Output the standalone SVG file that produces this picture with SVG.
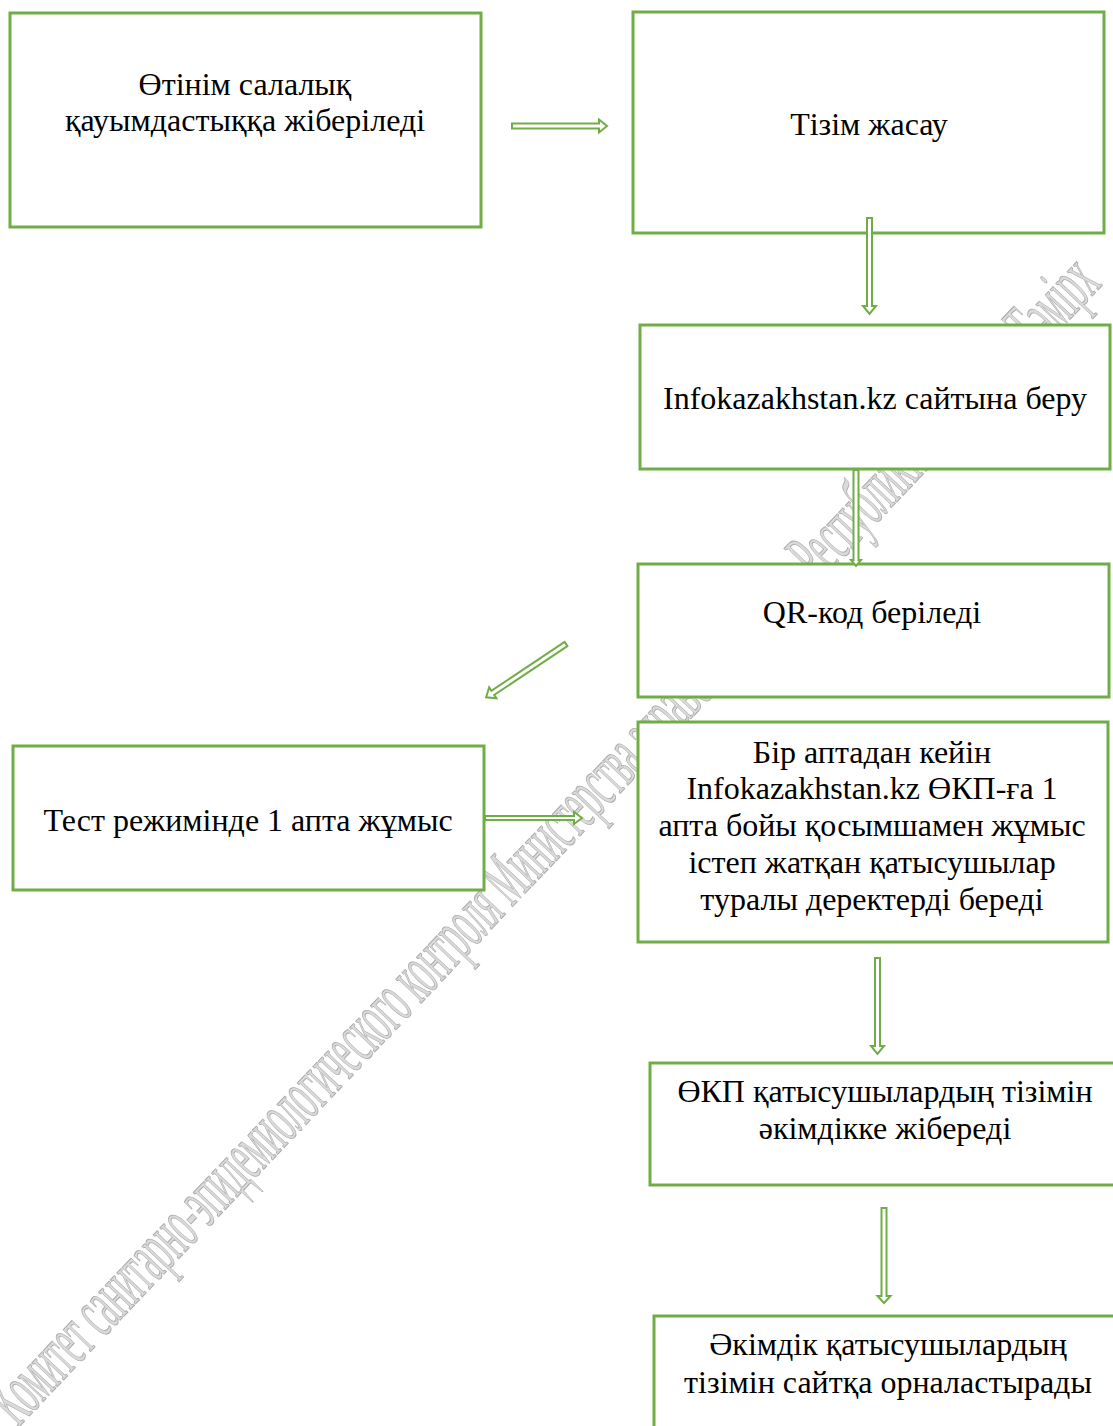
<svg xmlns="http://www.w3.org/2000/svg" width="1113" height="1426" viewBox="0 0 1113 1426">
<style>
.box{fill:#ffffff;stroke:#70AD47;stroke-width:3}
.t{font-family:"Liberation Serif","Times New Roman",serif;font-size:32px;fill:#000;text-anchor:middle}
.arr{fill:#ffffff;stroke:#70AD47;stroke-width:2;stroke-linejoin:miter}
.wm{font-family:"Liberation Serif","Times New Roman",serif;font-size:76px;fill:#dadada;stroke:#aaaaaa;stroke-width:1}
</style>
<rect x="0" y="0" width="1113" height="1426" fill="#ffffff"/>
<g id="watermark">
<text class="wm" transform="translate(18,1428) rotate(-46.5)" textLength="1576" lengthAdjust="spacingAndGlyphs">Комитет санитарно-эпидемиологического контроля Министерства здравоохранения Республики Казахстан Тәмірх</text>
</g>
<g id="node1"><rect class="box" x="10" y="13" width="471" height="214"/><text class="t" x="245" y="95">Өтінім салалық</text><text class="t" x="245" y="131">қауымдастыққа жіберіледі</text></g>
<g id="node2"><rect class="box" x="633" y="12" width="471" height="221"/><text class="t" x="869" y="135">Тізім жасау</text></g>
<g id="node3"><rect class="box" x="640" y="325" width="470" height="144"/><text class="t" x="875" y="409">Infokazakhstan.kz сайтына беру</text></g>
<g id="node4"><rect class="box" x="638" y="564" width="471" height="133"/><text class="t" x="872" y="623">QR-код беріледі</text></g>
<g id="node5"><rect class="box" x="638" y="722" width="470" height="220"/>
<text class="t" x="872" y="763">Бір аптадан кейін</text>
<text class="t" x="872" y="799">Infokazakhstan.kz ӨКП-ға 1</text>
<text class="t" x="872" y="836">апта бойы қосымшамен жұмыс</text>
<text class="t" x="872" y="873">істеп жатқан қатысушылар</text>
<text class="t" x="872" y="910">туралы деректерді береді</text></g>
<g id="node6"><rect class="box" x="13" y="746" width="471" height="144"/><text class="t" x="248" y="831">Тест режимінде 1 апта жұмыс</text></g>
<g id="node7"><rect class="box" x="650" y="1063" width="475" height="122"/><text class="t" x="885" y="1102">ӨКП қатысушылардың тізімін</text><text class="t" x="885" y="1139">әкімдікке жібереді</text></g>
<g id="node8"><rect class="box" x="654" y="1316" width="475" height="130"/><text class="t" x="888" y="1355">Әкімдік қатысушылардың</text><text class="t" x="888" y="1393">тізімін сайтқа орналастырады</text></g>
<g id="connectors">
<polygon class="arr" transform="translate(512,126)" points="0,-2.5 87,-2.5 87,-6.5 95,0 87,6.5 87,2.5 0,2.5"/>
<polygon class="arr" transform="translate(869.5,218) rotate(90)" points="0,-2.5 88,-2.5 88,-6.5 96,0 88,6.5 88,2.5 0,2.5"/>
<polygon class="arr" transform="translate(856,470) rotate(90)" points="0,-2.5 90,-2.5 90,-5 96,0 90,5 90,2.5 0,2.5"/>
<polygon class="arr" transform="translate(566,644) rotate(146.3)" points="0,-2.5 88,-2.5 88,-6.5 96,0 88,6.5 88,2.5 0,2.5"/>
<polygon class="arr" transform="translate(485,818)" points="0,-2 89,-2 89,-6 97,0 89,6 89,2 0,2"/>
<polygon class="arr" transform="translate(877.5,958) rotate(90)" points="0,-2.5 88,-2.5 88,-6.5 96,0 88,6.5 88,2.5 0,2.5"/>
<polygon class="arr" transform="translate(884,1208) rotate(90)" points="0,-2.5 88,-2.5 88,-6.5 95,0 88,6.5 88,2.5 0,2.5"/>
</g>
</svg>
